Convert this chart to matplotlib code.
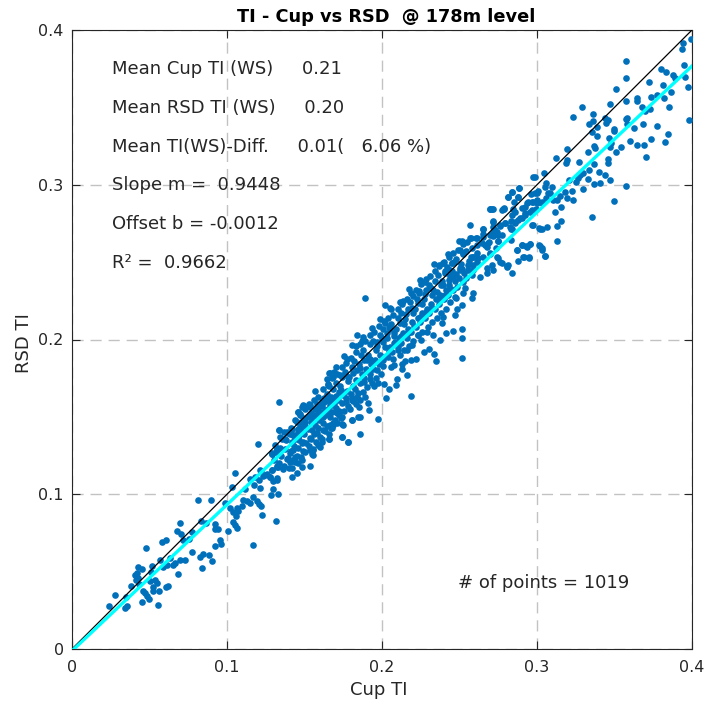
import matplotlib
matplotlib.use("Agg")
import matplotlib.pyplot as plt

slope = 0.9448
offset = -0.0012
title = "TI - Cup vs RSD  @ 178m level"
x_label = "Cup TI"
y_label = "RSD TI"
ticks = [0, 0.1, 0.2, 0.3, 0.4]
tick_labels = ["0", "0.1", "0.2", "0.3", "0.4"]
stats_lines = ["Mean Cup TI (WS)     0.21", "Mean RSD TI (WS)     0.20",
               "Mean TI(WS)-Diff.     0.01(   6.06 %)", "Slope m =  0.9448",
               "Offset b = -0.0012", "R\u00b2 =  0.9662"]
count_text = "# of points = 1019"

pts_low = [(.0241,.0280),(.0280,.0351),(.0344,.0267),(.0357,.0276),(.0346,.0338),(.0383,.0409),(.0409,.0479),
(.0428,.0531),(.0452,.0520),(.0417,.0488),(.0428,.0462),(.0411,.0445),(.0434,.0419),(.0456,.0376),(.0471,.0359),
(.0486,.0342),(.0499,.0320),(.0454,.0301),(.0555,.0284),(.0520,.0376),(.0520,.0402),(.0546,.0424),(.0535,.0449),
(.0505,.0441),(.0510,.0495),(.0518,.0535),(.0561,.0374),(.0606,.0402),(.0621,.0409),(.0682,.0486),(.0589,.0527),
(.0615,.0546),(.0654,.0540),(.0664,.0557),(.0694,.0576),(.0729,.0574),(.0568,.0574),(.0632,.0589),(.0477,.0651),
(.0583,.0694),(.0604,.0707),(.0718,.0705),(.0755,.0710),(.0772,.0757),(.0675,.0765),(.0703,.0744),(.0699,.0811),
(.0834,.0828),(.0864,.0815),(.0772,.0630),(.0828,.0593),(.0847,.0613),(.0884,.0606),(.0903,.0568),(.0841,.0525),
(.0920,.0667),(.0952,.0707),(.0963,.0677),(.0922,.0774),(.0942,.0774),(.0925,.0806),(.1008,.0761),(.1036,.0821),
(.1049,.0800),(.1062,.0785),(.0813,.0963),(.0894,.0963),(.0987,.0942),(.1032,.1045),(.1051,.1135),(.1202,.1327),
(.1170,.0673),(.1226,.0869),(.1316,.0830),(.1019,.0909),(.1041,.0886),(.1062,.0912),(.1056,.0858),(.1069,.0890),
(.1097,.0922),(.1105,.0961),(.1131,.0955),(.1148,.0944),(.1116,.1036),(.1150,.1101),(.1174,.1058),(.1213,.1038),
(.1170,.0983),(.1191,.0957),(.1204,.0940),(.1221,.0922),(.1281,.0993),(.1294,.1032),(.1331,.1004),(.1217,.1150),
(.1256,.1133),(.1290,.1155),(.1324,.1176),(.1277,.1112),(.1299,.1086),(.1324,.1094),(.1206,.1094),(.1230,.1116),
(.1290,.1258),(.1324,.1288)]

pts_mid_sparse = [(.1890,.2271),(.1337,.1594),(.2021,.2221),(.2051,.2202),(.2184,.1637),(.2513,.1879),(.2513,.2008),
(.2513,.2066),(.2455,.2053),(.2412,.2040),(.2374,.1997),(.2346,.1859),(.2333,.1904),(.2305,.1941),(.2268,.1917),
(.2253,.1997),(.2217,.1876),(.2184,.1868),(.2150,.1859),(.2126,.1842),(.2126,.1807),(.2163,.1771),(.2096,.1747),
(.2092,.1704),(.2045,.1680),(.2023,.1622),(.2073,.1872),(.2079,.1838),(.2010,.1713),(.1974,.1484),(.1855,.1387),
(.1778,.1338),(.1744,.1368),(.1660,.1357),(.1804,.1965),(.1838,.2032),(.1868,.1993),(.2021,.2109),(.2008,.2066),
(.2051,.2066),(.2133,.2251),(.2202,.2284),(.2283,.2391),(.2240,.2316),(.2365,.2475),(.2395,.2497),(.2449,.2492),
(.2460,.2406),(.2470,.2277),(.2513,.2223),(.2481,.2195),(.2470,.2156),(.2578,.2266),(.2589,.2299),(.2524,.2299),
(.2535,.2331),(.2395,.2148),(.2384,.2105),(.2331,.2029),(.2288,.2051),(.2234,.2029),(.2191,.1965),(.2159,.1932),
(.2105,.1932),(.1851,.1562),(.1916,.1545),(.1911,.1588),(.1847,.1502),(.1808,.1480),(.1744,.1454),(.1685,.1448),
(.1668,.1430),(.1621,.1502),(.1494,.1573),(.1531,.1584),(.1460,.1534),(.1660,.1782),(.1690,.1790),(.1655,.1700),
(.1776,.1876),(.1333,.1415),(.1290,.1265),(.1320,.1290),(.1385,.1400),(.1481,.1329),(.1460,.1372)]

pts_mid_dense = [(.131,.132),(.1315,.127),(.130,.122),(.132,.118),
(.134,.137),(.1345,.130),(.135,.125),(.1335,.120),(.136,.116),
(.137,.140),(.138,.135),(.1375,.129),(.139,.123),(.1365,.118),
(.141,.143),(.1405,.139),(.142,.134),(.141,.128),(.1425,.122),(.140,.117),
(.144,.148),(.1455,.142),(.144,.136),(.1435,.131),(.145,.125),(.146,.120),
(.147,.152),(.1475,.146),(.148,.141),(.1465,.135),(.149,.128),(.1475,.124),
(.150,.155),(.1515,.150),(.150,.144),(.1495,.139),(.151,.133),(.1505,.127),
(.153,.157),(.1535,.152),(.154,.147),(.1525,.142),(.1545,.136),(.153,.131),(.155,.126),
(.156,.161),(.1565,.155),(.155,.150),(.157,.145),(.156,.139),(.1575,.134),(.1555,.129),
(.159,.163),(.158,.158),(.160,.153),(.1595,.148),(.1585,.143),(.160,.137),(.159,.132),
(.162,.168),(.1625,.162),(.161,.157),(.163,.151),(.162,.146),(.1635,.141),(.1615,.136),
(.165,.171),(.1645,.165),(.166,.160),(.165,.155),(.1665,.150),(.1645,.144),(.166,.139),
(.168,.175),(.1685,.168),(.167,.163),(.169,.158),(.168,.153),(.1695,.148),(.1675,.143),
(.171,.178),(.170,.172),(.172,.166),(.1715,.161),(.1705,.156),(.172,.151),(.171,.146),
(.174,.182),(.1745,.176),(.173,.170),(.175,.164),(.174,.159),(.1755,.154),(.1735,.149),
(.177,.185),(.176,.179),(.178,.173),(.1775,.167),(.1765,.162),(.178,.157),
(.180,.188),(.1805,.182),(.179,.176),(.181,.170),(.180,.165),(.1815,.160),(.1795,.155),
(.183,.192),(.182,.186),(.184,.180),(.1835,.174),(.1825,.168),(.184,.163),(.183,.158),
(.186,.197),(.1865,.190),(.185,.184),(.187,.178),(.186,.172),(.1875,.166),(.1855,.161),
(.189,.199),(.188,.193),(.190,.187),(.1895,.181),(.1885,.175),(.190,.169),(.189,.163),
(.192,.203),(.1925,.197),(.191,.190),(.193,.184),(.192,.178),(.1935,.172),
(.195,.205),(.194,.199),(.196,.193),(.1955,.187),(.1945,.181),(.196,.175),(.195,.170),
(.198,.209),(.1985,.203),(.197,.196),(.199,.190),(.198,.184),(.1995,.178),(.1975,.172),
(.201,.212),(.200,.201),(.202,.195),(.2015,.189),(.2005,.183),
(.204,.214),(.2045,.208),(.203,.201),(.205,.195),(.204,.189),(.2055,.182),
(.207,.216),(.206,.210),(.208,.204),(.2075,.198),(.2065,.192),
(.210,.220),(.2105,.214),(.209,.207),(.211,.201),(.210,.195),(.2115,.190),
(.213,.223),(.212,.217),(.214,.210),(.2135,.204),(.2125,.198),(.214,.193),
(.216,.226),(.2165,.220),(.215,.213),(.217,.207),(.216,.201),(.2175,.196),
(.219,.230),(.218,.224),(.220,.217),(.2195,.211),(.2185,.205),(.220,.199),
(.222,.232),(.2225,.226),(.221,.220),(.223,.214),(.222,.208),(.2235,.203),
(.225,.236),(.224,.230),(.226,.223),(.2255,.217),(.2245,.211),(.226,.205),
(.228,.237),(.2285,.232),(.227,.226),(.229,.220),(.228,.214),(.2295,.208),
(.231,.241),(.230,.235),(.232,.229),(.2315,.223),(.2305,.217),(.232,.211),
(.234,.244),(.2345,.238),(.233,.232),(.235,.226),(.234,.220),(.2355,.214),
(.237,.248),(.236,.242),(.238,.235),(.2375,.229),(.2365,.223),(.238,.217),
(.240,.250),(.2405,.244),(.239,.238),(.241,.232),(.240,.226),(.2415,.220),
(.243,.253),(.242,.247),(.244,.241),(.2435,.235),(.2425,.229),(.244,.224),
(.246,.256),(.2465,.250),(.245,.244),(.247,.238),(.246,.232),(.2475,.227),
(.249,.258),(.248,.252),(.250,.246),(.2495,.240),(.2485,.234),
(.252,.262),(.2525,.255),(.251,.249),(.253,.243),(.252,.237),
(.255,.263),(.254,.257),(.256,.251),(.2555,.245),(.2545,.240),
(.258,.259),(.2575,.253),(.259,.248),(.258,.242)]

pts_mid_extra = [(.1425,.1385),(.1465,.1385),(.1505,.147),(.1545,.1525),(.158,.1505),(.1625,.1595),(.1665,.1575),
(.1705,.1635),(.1735,.1675),(.178,.1755),(.1815,.1785),(.1855,.1815),(.1885,.1865),(.1925,.1875),(.1965,.1985),
(.2005,.1985),(.2035,.2045),(.2075,.2025),(.2115,.2105),(.2155,.2165),(.2195,.2205),(.2235,.2235),(.2275,.2295),
(.2315,.2335),(.2355,.2305),(.2395,.2355),(.2435,.2385),(.2475,.2425),(.2515,.2455),(.1585,.1555),(.1645,.1525),
(.1685,.1605),(.1725,.1535),(.1765,.1595),(.1805,.1625),(.1845,.1655),(.1885,.1725),(.1925,.1745),(.1965,.1805),
(.2005,.1865),(.2045,.1925),(.2085,.1985),(.2125,.2025),(.2165,.2045),(.2205,.2085),(.2245,.2145),(.2285,.2175),
(.2325,.2205),(.2365,.2265),(.2405,.2285),(.2445,.2325),(.1835,.1955),(.1875,.2015),(.1935,.2075),(.1985,.2135),
(.2055,.2195),(.2115,.2245),(.2175,.2325),(.2245,.2385),(.2335,.2485),(.2425,.2555),(.2495,.2635),(.1705,.1825),
(.1755,.1895),(.1645,.1745),(.1565,.1665),(.1485,.1565)]

pts_upper_band = [(.2514,.2636),(.2568,.2653),(.2606,.2653),(.2649,.2712),(.2654,.2664),(.2714,.2761),(.2714,.2686),
(.2750,.2636),(.2692,.2632),(.2611,.2610),(.2664,.2610),(.2503,.2578),(.2525,.2557),(.2589,.2535),(.2621,.2524),
(.2654,.2535),(.2697,.2557),(.2750,.2524),(.2772,.2492),(.2815,.2481),(.2804,.2466),(.2836,.2427),(.2718,.2449),
(.2675,.2427),(.2632,.2406),(.2589,.2449),(.2503,.2449),(.2557,.2481),(.2439,.2449),(.2396,.2492),(.2449,.2492),
(.2406,.2427),(.2869,.2578),(.2911,.2531),(.2948,.2531),(.2901,.2610),(.2933,.2600),(.2955,.2617),(.3019,.2604),
(.3030,.2578),(.3051,.2541),(.3015,.2718),(.3030,.2712),(.2965,.2740),(.2697,.2841),(.2712,.2841),(.2778,.2841),
(.2787,.2847),(.2815,.2918),(.2841,.2951),(.2875,.2918),(.2884,.2977),(.2761,.2740),(.2793,.2750),(.2825,.2729),
(.2836,.2712),(.2858,.2761),(.2890,.2783),(.2922,.2804),(.2954,.2826),(.2836,.2804),(.2858,.2826),(.2901,.2847),
(.2933,.2880),(.2965,.2890),(.2998,.2901),(.3030,.2880),(.2998,.2944),(.2976,.3052),(.3051,.2987),(.3073,.2944),
(.2729,.2707),(.2697,.2675),(.2750,.2675)]

pts_lower_band = [(.1335,.1415),(.1352,.1357),(.1374,.1357),(.1417,.1420),(.1395,.1394),(.1428,.1383),(.1460,.1405),
(.1471,.1437),(.1449,.1469),(.1492,.1491),(.1460,.1534),(.1471,.1512),(.1492,.1577),(.1535,.1577),(.1535,.1566),
(.1589,.1577),(.1610,.1598),(.1653,.1609),(.1653,.1706),(.1664,.1781),(.1685,.1760),(.1729,.1771),(.1557,.1512),
(.1589,.1523),(.1632,.1545),(.1675,.1577),(.1707,.1523),(.1739,.1501),(.1804,.1480),(.1858,.1501),(.1804,.1609),
(.1836,.1620),(.1664,.1448),(.1686,.1458),(.1750,.1448),(.1739,.1372),(.1782,.1340),(.1660,.1357),(.1610,.1340),
(.1600,.1308),(.1557,.1286),(.1535,.1286),(.1557,.1254),(.1546,.1415),(.1578,.1394),(.1621,.1415),(.1535,.1361),
(.1492,.1340),(.1460,.1297),(.1428,.1286),(.1406,.1264),(.1438,.1243),(.1481,.1221),(.1438,.1211),(.1417,.1168),
(.1449,.1135),(.1417,.1114),(.1481,.1178),(.1535,.1183),(.1331,.1178),(.1288,.1157),(.1213,.1157),(.1245,.1124),
(.1277,.1114),(.1320,.1103),(.1180,.1114),(.1406,.1211),(.1395,.1232),(.1320,.1286),(.1288,.1260)]

pts_high = [(.3996,.3940),(.3944,.3918),(.3933,.3875),(.3950,.3776),(.3955,.3694),(.3974,.3630),(.3981,.3418),
(.3574,.3798),(.3576,.3690),(.3508,.3617),(.3802,.3746),(.3834,.3731),(.3880,.3711),(.3892,.3692),(.3723,.3666),
(.3815,.3645),(.3862,.3599),(.3772,.3582),(.3735,.3565),(.3819,.3561),(.3643,.3558),(.3645,.3543),(.3576,.3541),
(.3469,.3522),(.3675,.3505),(.3854,.3500),(.3731,.3487),(.3697,.3479),(.3288,.3505),(.3230,.3440),(.3364,.3455),
(.3359,.3412),(.3333,.3393),(.3389,.3373),(.3439,.3429),(.3458,.3416),(.3445,.3401),(.3579,.3431),(.3574,.3423),
(.3583,.3390),(.3624,.3365),(.3682,.3390),(.3776,.3377),(.3847,.3330),(.3499,.3358),(.3495,.3347),(.3355,.3341),
(.3387,.3315),(.3467,.3300),(.3480,.3268),(.3469,.3246),(.3600,.3283),(.3647,.3259),(.3688,.3257),(.3733,.3296),
(.3826,.3278),(.3542,.3244),(.3512,.3212),(.3701,.3179),(.3366,.3253),(.3376,.3237),(.3327,.3209),(.3192,.3229),
(.3125,.3171),(.3192,.3160),(.3189,.3138),(.3269,.3145),(.3460,.3169),(.3456,.3143),(.3370,.3132),(.3338,.3097),
(.3398,.3082),(.3441,.3063),(.3473,.3033),(.3331,.3039),(.3299,.3074),(.3278,.3063),(.3267,.3041),(.3252,.3018),
(.3368,.3007),(.3409,.3011),(.3576,.2994),(.3204,.3033),(.3295,.2970),(.3495,.2897),(.3353,.2792),(.2987,.3052),
(.3045,.3074),(.3060,.3009),(.3095,.2983),(.2884,.2977),(.2841,.2951),(.2875,.2919),(.2815,.2919),(.2854,.2886),
(.3009,.2962),(.2987,.2945),(.2961,.2938),(.3058,.2917),(.3084,.2945),(.3030,.2891),(.2998,.2880),(.2977,.2891),
(.2944,.2891),(.2923,.2858),(.2966,.2837),(.2992,.2843),(.3106,.2901),(.3131,.2901),(.3148,.2929),(.3181,.2955),
(.3224,.2960),(.3235,.2901),(.3192,.2912),(.3153,.2854),(.3116,.2822),(.3155,.2764),(.3127,.2731),(.3067,.2725),
(.3020,.2714),(.2972,.2738),(.3131,.2634),(.3052,.2537),(.3030,.2589),(.3015,.2611),(.2955,.2615),(.2929,.2602),
(.2906,.2611),(.2869,.2580),(.2914,.2531),(.2949,.2527),(.2875,.2509),(.2697,.2843),(.2714,.2843),(.2777,.2837),
(.2785,.2843),(.2848,.2843),(.2901,.2783),(.2880,.2772),(.2858,.2751),(.2830,.2768),(.2794,.2751),(.2762,.2733),
(.2714,.2766),(.2714,.2729),(.2830,.2712),(.2777,.2675),(.2740,.2697),(.2650,.2712),(.2650,.2682),(.2611,.2654),
(.2572,.2654),(.2568,.2740),(.2714,.2669),(.2830,.2643),(.2751,.2639),(.2686,.2621),(.2643,.2621),(.2676,.2600),
(.2736,.2589),(.2697,.2552),(.2740,.2535),(.2762,.2503),(.2809,.2475),(.2708,.2481),(.2611,.2557),(.2590,.2531),
(.2615,.2503),(.2676,.2460),(.2923,.2820)]

points = pts_low + pts_mid_sparse + pts_mid_dense + pts_mid_extra + pts_upper_band + pts_lower_band + pts_high
cup_ti = [p[0] for p in points]
rsd_ti = [p[1] for p in points]

INK = "#262626"
plt.rcParams["font.family"] = ["DejaVu Sans"]
fig = plt.figure(figsize=(7.05, 7.01), dpi=100)
ax = fig.add_axes([72 / 705, 1 - 649 / 701, 620 / 705, 619 / 701])
ax.set_xlim(0, 0.4)
ax.set_ylim(0, 0.4)
ax.set_axisbelow(True)
ax.grid(True, color="#c2c2c2", linewidth=1.0, linestyle=(0, (8, 5)))
ax.scatter(cup_ti, rsd_ti, s=23, color="#0070BB", linewidths=0, zorder=3)
ends = [0, 0.4]
ax.plot(ends, ends, color="black", linewidth=0.9, zorder=4)
ax.plot(ends, [slope * v + offset for v in ends], color="#00FFFF", linewidth=2.4, zorder=5)

ax.set_xticks(ticks)
ax.set_xticklabels(tick_labels)
ax.set_yticks(ticks)
ax.set_yticklabels(tick_labels)
ax.tick_params(direction="in", length=6, width=0.8, color=INK, labelcolor=INK, labelsize=11.5,
               top=True, right=True)
ax.tick_params(axis="x", pad=8)
ax.tick_params(axis="y", pad=6)
for s in ax.spines.values():
    s.set_color(INK)
    s.set_linewidth(0.8)
ax.set_xlabel(x_label, fontsize=13, color=INK, va="center")
ax.xaxis.set_label_coords(0.495, -0.066)
ax.set_ylabel(y_label, fontsize=13, color=INK, va="center")
ax.yaxis.set_label_coords(-0.078, 0.494)
ax.set_title(title, fontsize=12.8, fontweight="bold", color="black", pad=5.5, x=0.506)

for label, yv in zip(stats_lines, [0.3745, 0.3497, 0.3245, 0.2998, 0.2746, 0.2494]):
    ax.text(0.0258, yv, label, fontsize=13, color=INK, va="center", ha="left", zorder=6)
ax.text(0.249, 0.0425, count_text, fontsize=13, color=INK, va="center", ha="left", zorder=6)

fig.savefig("out.png", dpi=100, facecolor="white")
